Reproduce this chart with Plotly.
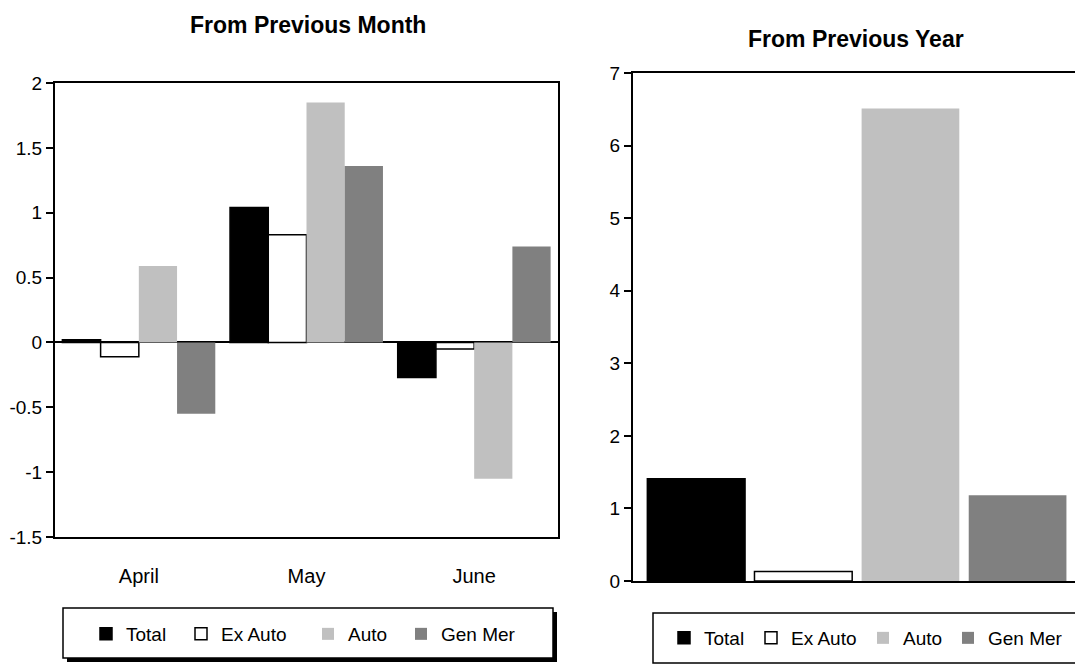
import plotly.graph_objects as go

W, H = 1075, 665
FONT = "Liberation Sans, Arial, sans-serif"

months = ["April", "May", "June"]
series = ["Total", "Ex Auto", "Auto", "Gen Mer"]
colors = ["#000000", "#FFFFFF", "#C0C0C0", "#808080"]
line_w = [1.5, 1.5, 0, 0]

mom_total = [0.02, 1.04, -0.27]
mom_exauto = [-0.11, 0.83, -0.05]
mom_auto = [0.59, 1.85, -1.05]
mom_genmer = [-0.55, 1.36, 0.74]
mom_values = [mom_total, mom_exauto, mom_auto, mom_genmer]

yoy_values = [1.41, 0.13, 6.51, 1.18]

left_ticks = [-1.5, -1, -0.5, 0, 0.5, 1, 1.5, 2]
left_ticktext = ["-1.5", "-1", "-0.5", "0", "0.5", "1", "1.5", "2"]
right_ticks = [0, 1, 2, 3, 4, 5, 6, 7]

# legend text start positions (pixels) for each entry, left and right panels
left_leg_text_x = [126, 221, 348, 441]
right_leg_text_x = [704, 791, 903, 988]
LEG_TEXT_OFFSET = 40


def px_x(p):
    return p / W


def px_y(p):
    return 1 - p / H


fig = go.Figure()

for i, (name, vals, c, lw) in enumerate(zip(series, mom_values, colors, line_w)):
    fig.add_trace(go.Bar(
        x=months, y=vals, name=name, xaxis="x", yaxis="y",
        marker=dict(color=c, line=dict(color="#000000", width=lw)),
        legend="legend" if i == 0 else f"legend{i + 1}", showlegend=True,
    ))

for i, (name, v, c, lw) in enumerate(zip(series, yoy_values, colors, line_w)):
    fig.add_trace(go.Bar(
        x=[name], y=[v], name=name, xaxis="x2", yaxis="y2",
        marker=dict(color=c, line=dict(color="#000000", width=lw)),
        offsetgroup="yoy", legend=f"legend{i + 5}", showlegend=True,
    ))

axis_common = dict(showgrid=False, linecolor="#000000", linewidth=2,
                   tickfont=dict(family=FONT, size=19, color="#000000"))

left_dom_y = [px_y(537), px_y(83)]
right_dom_y = [px_y(581), px_y(73)]

layout = dict(
    width=W, height=H, autosize=False,
    margin=dict(l=0, r=0, t=0, b=0, autoexpand=False),
    paper_bgcolor="#FFFFFF", plot_bgcolor="#FFFFFF",
    barmode="group", bargap=0.088, bargroupgap=0,
    font=dict(family=FONT, size=19, color="#000000"),
    hovermode=False,
    xaxis=dict(domain=[px_x(55), px_x(558)], anchor="y", showline=True, mirror=True,
               ticks="", ticklabelstandoff=20,
               showgrid=False, linecolor="#000000", linewidth=2,
               tickfont=dict(family=FONT, size=20, color="#000000")),
    yaxis=dict(domain=left_dom_y, anchor="x", range=[-1.5, 2],
               tickvals=left_ticks, ticktext=left_ticktext, showline=True, mirror=True,
               ticks="outside", ticklen=7, tickwidth=2, tickcolor="#000000",
               zeroline=True, zerolinecolor="#000000", zerolinewidth=2, **axis_common),
    yaxis3=dict(domain=left_dom_y, anchor="x", overlaying="y", side="left", range=[-1.5, 2],
                tickvals=left_ticks, showticklabels=False, showline=False, showgrid=False,
                zeroline=False, ticks="inside", ticklen=7, tickwidth=2, tickcolor="#000000"),
    xaxis2=dict(domain=[px_x(633), 1.0], anchor="y2", showline=True, mirror=True,
                range=[-0.59, 3.536], showticklabels=False, ticks="",
                categoryorder="array", categoryarray=series, **axis_common),
    yaxis2=dict(domain=right_dom_y, anchor="x2", range=[0, 7],
                tickvals=right_ticks, showline=True, mirror=False,
                ticks="outside", ticklen=7, tickwidth=2, tickcolor="#000000",
                zeroline=False, **axis_common),
    yaxis4=dict(domain=right_dom_y, anchor="x2", overlaying="y2", side="left", range=[0, 7],
                tickvals=right_ticks, showticklabels=False, showline=False, showgrid=False,
                zeroline=False, ticks="inside", ticklen=7, tickwidth=2, tickcolor="#000000"),
)

for i in range(4):
    key = "legend" if i == 0 else f"legend{i + 1}"
    layout[key] = dict(orientation="h", x=px_x(left_leg_text_x[i] - LEG_TEXT_OFFSET), y=px_y(634),
                       xanchor="left", yanchor="middle", bgcolor="rgba(0,0,0,0)", borderwidth=0,
                       font=dict(family=FONT, size=19, color="#000000"))
    layout[f"legend{i + 5}"] = dict(orientation="h", x=px_x(right_leg_text_x[i] - LEG_TEXT_OFFSET),
                                    y=px_y(638), xanchor="left", yanchor="middle",
                                    bgcolor="rgba(0,0,0,0)", borderwidth=0,
                                    font=dict(family=FONT, size=19, color="#000000"))

fig.update_layout(**layout)

shapes = [
    # left legend shadow + box
    dict(type="rect", xref="paper", yref="paper", x0=px_x(67), x1=px_x(557), y0=px_y(662), y1=px_y(612),
         fillcolor="#000000", line=dict(width=0), layer="below"),
    dict(type="rect", xref="paper", yref="paper", x0=px_x(63), x1=px_x(553), y0=px_y(658), y1=px_y(608),
         fillcolor="#FFFFFF", line=dict(color="#000000", width=1.5), layer="below"),
    # right legend box
    dict(type="rect", xref="paper", yref="paper", x0=px_x(653), x1=px_x(1085), y0=px_y(663), y1=px_y(613),
         fillcolor="#FFFFFF", line=dict(color="#000000", width=1.5), layer="below"),
]
fig.update_layout(shapes=shapes)

fig.add_annotation(text="<b>From Previous Month</b>", xref="paper", yref="paper",
                   x=px_x(308), y=px_y(25), xanchor="center", yanchor="middle", showarrow=False,
                   font=dict(family=FONT, size=23, color="#000000"))
fig.add_annotation(text="<b>From Previous Year</b>", xref="paper", yref="paper",
                   x=px_x(856), y=px_y(39), xanchor="center", yanchor="middle", showarrow=False,
                   font=dict(family=FONT, size=23, color="#000000"))

fig.write_html("out.html", config={"displayModeBar": False},
               post_script="document.body.style.margin='0';")
